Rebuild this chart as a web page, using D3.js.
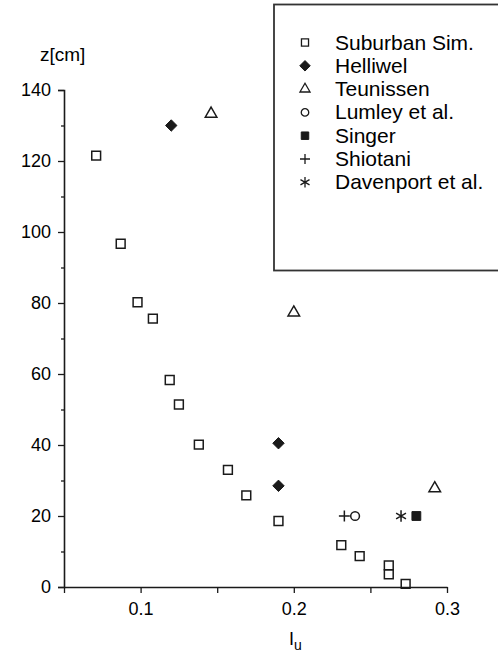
<!DOCTYPE html>
<html>
<head>
<meta charset="utf-8">
<script src="https://cdn.jsdelivr.net/npm/d3@7"></script>
<style>
  body { margin: 0; background: #fff; }
  svg text { font-family: "Liberation Sans", Arial, sans-serif; fill: #000; }
</style>
</head>
<body>
<div id="chart"></div>
<script>
// data
const suburbanIu = [0.071, 0.087, 0.098, 0.108, 0.119, 0.125, 0.138, 0.157, 0.169, 0.190, 0.231, 0.243, 0.262, 0.262, 0.273];
const suburbanZ  = [121.5, 96.7, 80.2, 75.6, 58.3, 51.4, 40.1, 33.0, 25.8, 18.6, 11.8, 8.7, 6.1, 3.6, 0.9];
const helliwelIu = [0.120, 0.190, 0.190];
const helliwelZ  = [130, 40.5, 28.5];
const teunissenIu = [0.146, 0.200, 0.292];
const teunissenZ  = [133.3, 77.3, 27.8];
const lumleyIu = [0.240];
const lumleyZ  = [20];
const singerIu = [0.280];
const singerZ  = [20];
const shiotaniIu = [0.233];
const shiotaniZ  = [20];
const davenportIu = [0.270];
const davenportZ  = [20];

const xTicks = [0.05, 0.1, 0.15, 0.2, 0.25, 0.3];
const xLabels = [0.1, 0.2, 0.3];
const yTicks = d3.range(0, 141, 10);
const yLabels = [0, 20, 40, 60, 80, 100, 120, 140];

const W = 498, H = 659;
const margin = {top: 90, right: 51, bottom: 72, left: 64};
const width = W - margin.left - margin.right,
      height = H - margin.top - margin.bottom;
const ink = '#1a1a1a';

// custom symbols: square diamond, thin plus, asterisk
const diamondSym = {
  draw(ctx, size) {
    const r = Math.sqrt(size) / 2;
    ctx.moveTo(0, -r); ctx.lineTo(r, 0); ctx.lineTo(0, r); ctx.lineTo(-r, 0);
    ctx.closePath();
  }
};
const plusSym = {
  draw(ctx, size) {
    const r = Math.sqrt(size) / 2;
    ctx.moveTo(-r, 0); ctx.lineTo(r, 0);
    ctx.moveTo(0, -r); ctx.lineTo(0, r);
  }
};
const starSym = {
  draw(ctx, size) {
    const r = Math.sqrt(size) / 2;
    ctx.moveTo(0, -r); ctx.lineTo(0, r);
    const a = r * Math.cos(Math.PI / 6), b = r * Math.sin(Math.PI / 6);
    ctx.moveTo(-a, -b); ctx.lineTo(a, b);
    ctx.moveTo(-a, b); ctx.lineTo(a, -b);
  }
};

const series = [
  {name: 'Suburban Sim.', x: suburbanIu, y: suburbanZ, type: d3.symbolSquare, size: 78, fill: 'none', legSize: 50},
  {name: 'Helliwel', x: helliwelIu, y: helliwelZ, type: diamondSym, size: 130, fill: ink, legSize: 110},
  {name: 'Teunissen', x: teunissenIu, y: teunissenZ, type: d3.symbolTriangle, size: 58, fill: 'none', legSize: 44},
  {name: 'Lumley et al.', x: lumleyIu, y: lumleyZ, type: d3.symbolCircle, size: 60, fill: 'none', legSize: 44},
  {name: 'Singer', x: singerIu, y: singerZ, type: d3.symbolSquare, size: 78, fill: ink, legSize: 56},
  {name: 'Shiotani', x: shiotaniIu, y: shiotaniZ, type: plusSym, size: 120, fill: 'none', legSize: 100},
  {name: 'Davenport et al.', x: davenportIu, y: davenportZ, type: starSym, size: 130, fill: 'none', legSize: 110}
];

const svg = d3.select('#chart').append('svg')
  .attr('width', W).attr('height', H);

const g = svg.append('g')
  .attr('transform', `translate(${margin.left},${margin.top})`);

const xScale = d3.scaleLinear().domain([0.05, 0.3]).range([0, width]);
const yScale = d3.scaleLinear().domain([0, 140]).range([height, 0]);

// x axis
const xAxis = g.append('g')
  .attr('transform', `translate(0,${height})`)
  .call(d3.axisBottom(xScale).tickValues(xTicks).tickSize(6).tickSizeOuter(0)
    .tickFormat(d => xLabels.some(v => Math.abs(v - d) < 1e-9) ? d3.format('.1f')(d) : ''));
xAxis.select('.domain').attr('stroke', ink).attr('stroke-width', 1.6);
xAxis.selectAll('.tick line').attr('stroke', ink).attr('stroke-width', 1.3);
xAxis.selectAll('.tick text').attr('font-size', 18).attr('dy', '1.05em').attr('fill', '#000');

// y axis
const yAxis = g.append('g')
  .call(d3.axisLeft(yScale).tickValues(yTicks).tickSizeOuter(0)
    .tickSize(6).tickFormat(d => yLabels.includes(d) ? d : ''));
yAxis.select('.domain').attr('stroke', ink).attr('stroke-width', 1.6);
yAxis.selectAll('.tick line')
  .attr('stroke', ink).attr('stroke-width', 1.3)
  .attr('x2', d => yLabels.includes(d) ? -6 : -3);
yAxis.selectAll('.tick text').attr('font-size', 18).attr('x', -13).attr('fill', '#000');

// axis titles
svg.append('text')
  .attr('x', 40).attr('y', 61)
  .attr('font-size', 19)
  .text('z[cm]');

const xt = svg.append('text')
  .attr('x', 289).attr('y', 645)
  .attr('font-size', 18);
xt.append('tspan').text('I');
xt.append('tspan').attr('font-size', 14).attr('dy', 5).text('u');

// points
series.forEach(s => {
  const sym = d3.symbol().type(s.type).size(s.size);
  g.append('g')
    .selectAll('path')
    .data(s.x.map((v, i) => ({x: v, y: s.y[i]})))
    .join('path')
    .attr('transform', d => `translate(${xScale(d.x)},${yScale(d.y)})`)
    .attr('d', sym)
    .attr('fill', s.fill)
    .attr('stroke', ink)
    .attr('stroke-width', s.fill === 'none' ? 1.5 : 1);
});

// legend box (runs past the right edge as in the figure)
const leg = svg.append('g');
leg.append('rect')
  .attr('x', 274).attr('y', 4.5)
  .attr('width', 240).attr('height', 266)
  .attr('fill', '#fff')
  .attr('stroke', '#333').attr('stroke-width', 1.8);

const legItems = leg.selectAll('g.item')
  .data(series)
  .join('g')
  .attr('class', 'item')
  .attr('transform', (d, i) => `translate(305,${42.5 + i * 23.3})`);

legItems.append('path')
  .attr('d', d => d3.symbol().type(d.type).size(d.legSize)())
  .attr('fill', d => d.fill)
  .attr('stroke', ink)
  .attr('stroke-width', d => d.fill === 'none' ? 1.3 : 1);

legItems.append('text')
  .attr('x', 30).attr('y', 7)
  .attr('font-size', 21)
  .text(d => d.name);
</script>
</body>
</html>
